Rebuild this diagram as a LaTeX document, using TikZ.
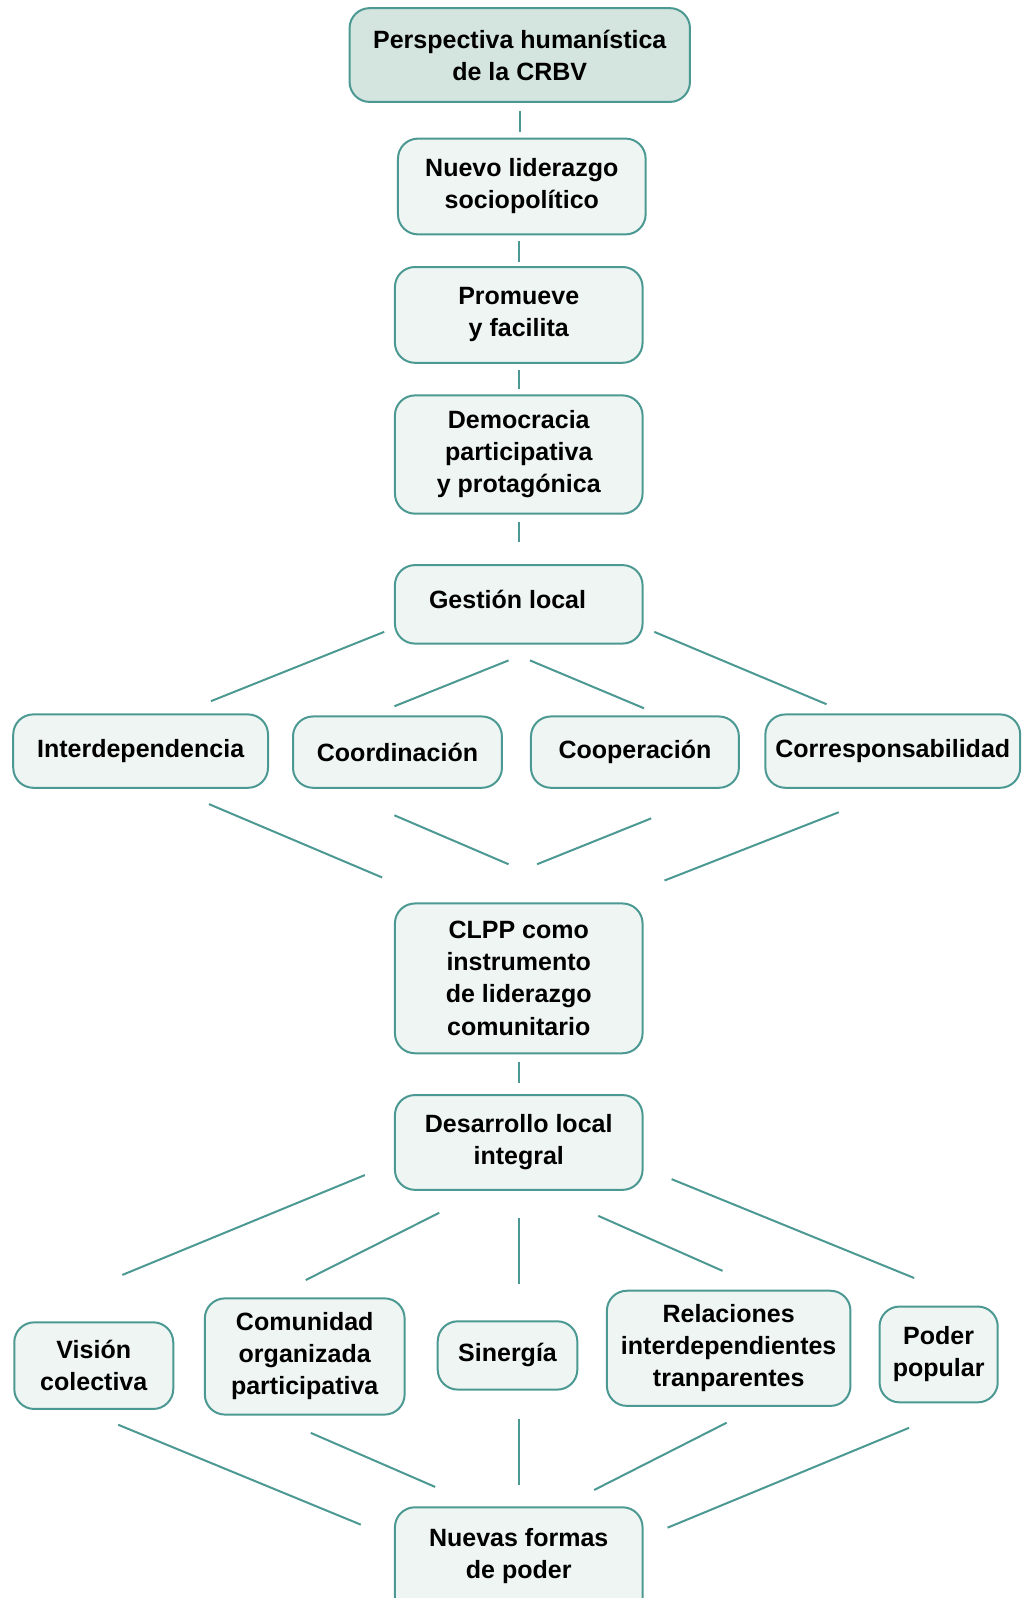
\documentclass[tikz,border=0pt]{standalone}
\usepackage{fontspec}
\setmainfont{Liberation Sans}
\definecolor{tealline}{RGB}{75,153,146}
\definecolor{boxfill}{RGB}{238,245,242}
\definecolor{topfill}{RGB}{212,228,223}
\tikzset{
  box/.style={draw=tealline, fill=boxfill, line width=1pt, rounded corners=10pt,
    align=center, inner sep=0pt, font=\fontsize{12.5}{16}\selectfont\bfseries},
  dim/.style 2 args={minimum width=#1*0.5094pt, minimum height=#2*0.5094pt},
  link/.style={draw=tealline, line width=1pt},
}
\begin{document}
\begin{tikzpicture}[x=0.5094pt, y=-0.5094pt]
    \clip (0,0) rectangle (1007,1568);
    %\draw [help lines] (0,0) grid[step=50] (1007,1568);

    % chain at the top
    \node [box, fill=topfill, dim={334}{92}] (persp) at (510,54) {Perspectiva humanística\\de la CRBV};
    \node [box, dim={243}{94}] (nuevo) at (512,183) {Nuevo liderazgo\\sociopolítico};
    \node [box, dim={243}{94}] (promueve) at (509,309) {Promueve\\y facilita};
    \node [box, dim={243}{116}] (democracia) at (509,446) {Democracia\\participativa\\y protagónica};
    \node [box, dim={243}{77}] (gestion) at (509,593) {\raisebox{2.5pt}[\height][\depth]{\kern-5.6pt Gestión local\kern5.6pt}};

    \node [box, dim={250}{72}] (interdep) at (138,737) {Interdependencia};
    \node [box, dim={205}{70}] (coord) at (390,738) {Coordinación};
    \node [box, dim={204}{70}] (coop) at (623,738) {Cooperación};
    \node [box, dim={250}{72}] (corresp) at (876,737) {Corresponsabilidad};

    \node [box, dim={243}{147}] (clpp) at (509,960) {CLPP como\\instrumento\\de liderazgo\\comunitario};
    \node [box, dim={243}{93}] (desarrollo) at (509,1121) {Desarrollo local\\integral};

    \node [box, dim={156}{85}] (vision) at (92,1340) {Visión\\colectiva};
    \node [box, dim={196}{114}] (comunidad) at (299,1331) {Comunidad\\organizada\\participativa};
    \node [box, dim={137}{67}] (sinergia) at (498,1330) {Sinergía};
    \node [box, dim={239}{113}] (relaciones) at (715,1323) {Relaciones\\interdependientes\\tranparentes};
    \node [box, dim={116}{94}] (poder) at (921,1329) {Poder\\popular};

    % last box runs off the page
    \node [box, minimum width=243*0.5094pt, anchor=north, text height=35.7pt, text depth=40pt] (nuevas) at (509,1478) {Nuevas formas\\de poder};

    % straight links
    \draw [link, shorten <=4pt, shorten >=3pt] (persp.south) -- (persp.south |- nuevo.north);
    \draw [link, shorten <=3pt, shorten >=2pt] (promueve.north |- nuevo.south) -- (promueve.north);
    \draw [link, shorten <=3pt, shorten >=2.5pt] (promueve.south) -- (democracia.north);
    \draw [link, shorten <=3.5pt, shorten >=11pt] (democracia.south) -- (gestion.north);
    \draw [link, shorten <=4pt, shorten >=5.5pt] (clpp.south) -- (desarrollo.north);
    \draw [link, shorten <=13.75pt, shorten >=18pt] (desarrollo.south) -- (desarrollo.south |- sinergia.north);
    \draw [link, shorten <=10.7pt, shorten >=14.3pt] (nuevas.north) -- (nuevas.north |- sinergia.south);

    % loose ends of the slanted links
    \foreach \n/\x/\y in {gi1/377/620, gi2/207/688, gc1/499/648, gc2/387/693,
                          go1/520/648, go2/632/695, gr1/642/620, gr2/811/691,
                          ic1/205/789, ic2/375/861, cc1/387/800, cc2/499/848,
                          oc1/639/803, oc2/527/848, rc1/823/797, rc2/652/864,
                          dv1/358/1153, dv2/120/1251, dc1/431/1190, dc2/300/1256,
                          dr1/587/1193, dr2/709/1247, dp1/659/1157, dp2/897/1254,
                          vn1/116/1398, vn2/354/1496, cn1/305/1406, cn2/427/1459,
                          rn1/713/1396, rn2/583/1462, pn1/892/1401, pn2/655/1499}
        \coordinate (\n) at (\x,\y);

    \foreach \a/\b in {gi1/gi2, gc1/gc2, go1/go2, gr1/gr2,
                       ic1/ic2, cc1/cc2, oc1/oc2, rc1/rc2,
                       dv1/dv2, dc1/dc2, dr1/dr2, dp1/dp2,
                       vn1/vn2, cn1/cn2, rn1/rn2, pn1/pn2}
        \draw [link] (\a) -- (\b);
\end{tikzpicture}
\end{document}
